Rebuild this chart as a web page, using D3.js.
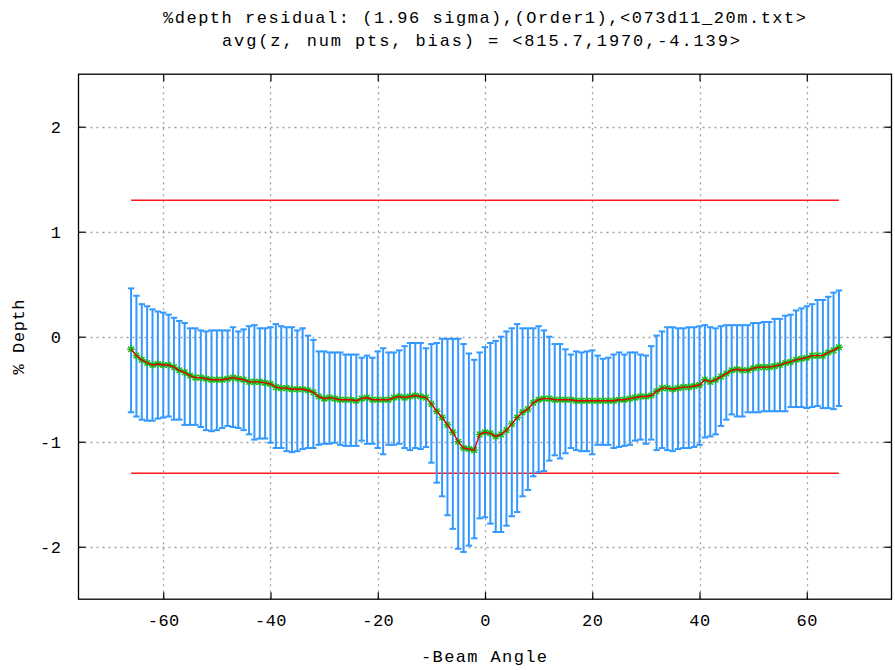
<!DOCTYPE html>
<html>
<head>
<meta charset="utf-8">
<script src="https://cdn.jsdelivr.net/npm/d3@7"></script>
<style>
  html, body { margin: 0; padding: 0; background: #fff; }
  svg text { font-family: "Liberation Mono", "DejaVu Sans Mono", monospace; fill: #000; }
</style>
</head>
<body>
<svg id="chart" width="895" height="670"></svg>
<script>
// Beam angles (degrees) at which the residual statistics were binned
const beamAngles = [
  -66,-65,-64,-63,-62,-61,-60,-59,-58,-57,-56,-55,-54,-53,-52,-51,-50,-49,-48,-47,
  -46,-45,-44,-43,-42,-41,-40,-39,-38,-37,-36,-35,-34,-33,-32,-31,-30,-29,-28,-27,
  -26,-25,-24,-23,-22,-21,-20,-19,-18,-17,-16,-15,-14,-13,-12,-11,-10,-9,-8,-7,
  -6,-5,-4,-3,-2,-1,0,1,2,3,4,5,6,7,8,9,10,11,12,13,
  14,15,16,17,18,19,20,21,22,23,24,25,26,27,28,29,30,31,32,33,
  34,35,36,37,38,39,40,41,42,43,44,45,46,47,48,49,50,51,52,53,
  54,55,56,57,58,59,60,61,62,63,64,65,66
];

// Mean % depth residual per angle
const meanResidual = [
  -0.12,-0.18,-0.22,-0.25,-0.27,-0.26,-0.27,-0.27,-0.29,-0.32,-0.34,-0.37,-0.39,-0.39,-0.40,-0.41,-0.41,-0.41,-0.40,-0.39,
  -0.40,-0.41,-0.43,-0.43,-0.43,-0.44,-0.45,-0.48,-0.49,-0.49,-0.50,-0.50,-0.50,-0.51,-0.53,-0.57,-0.59,-0.58,-0.59,-0.60,
  -0.60,-0.60,-0.61,-0.59,-0.58,-0.60,-0.60,-0.60,-0.60,-0.58,-0.57,-0.58,-0.57,-0.56,-0.57,-0.58,-0.64,-0.71,-0.77,-0.84,
  -0.91,-1.00,-1.06,-1.07,-1.08,-0.93,-0.91,-0.92,-0.95,-0.93,-0.89,-0.83,-0.77,-0.72,-0.69,-0.63,-0.60,-0.59,-0.59,-0.60,
  -0.60,-0.60,-0.60,-0.61,-0.61,-0.61,-0.61,-0.61,-0.61,-0.61,-0.61,-0.60,-0.60,-0.59,-0.58,-0.57,-0.57,-0.56,-0.52,-0.49,
  -0.49,-0.50,-0.49,-0.48,-0.48,-0.47,-0.46,-0.41,-0.43,-0.41,-0.38,-0.35,-0.32,-0.31,-0.32,-0.32,-0.30,-0.29,-0.29,-0.29,
  -0.28,-0.27,-0.25,-0.24,-0.22,-0.21,-0.20,-0.18,-0.18,-0.18,-0.15,-0.13,-0.10
];

// Upper end of the 1.96-sigma interval
const upperBound = [
  0.46,0.39,0.31,0.29,0.26,0.24,0.23,0.21,0.18,0.15,0.13,0.08,0.08,0.06,0.05,0.06,0.06,0.06,0.06,0.09,
  0.05,0.07,0.10,0.11,0.08,0.08,0.09,0.12,0.10,0.09,0.09,0.06,0.08,0.01,-0.03,-0.14,-0.14,-0.15,-0.15,-0.15,
  -0.17,-0.17,-0.17,-0.20,-0.18,-0.20,-0.14,-0.11,-0.15,-0.15,-0.13,-0.09,-0.06,-0.06,-0.06,-0.11,-0.07,-0.06,-0.02,-0.02,
  -0.02,-0.02,-0.07,-0.16,-0.22,-0.15,-0.10,-0.06,-0.04,0.00,0.05,0.08,0.12,0.08,0.08,0.08,0.10,0.06,0.00,-0.07,
  -0.07,-0.12,-0.17,-0.14,-0.15,-0.14,-0.13,-0.18,-0.21,-0.20,-0.17,-0.15,-0.17,-0.15,-0.15,-0.17,-0.18,-0.09,0.01,0.05,
  0.09,0.09,0.08,0.08,0.09,0.09,0.10,0.11,0.09,0.08,0.10,0.11,0.11,0.11,0.11,0.11,0.13,0.13,0.14,0.14,
  0.17,0.17,0.20,0.21,0.25,0.27,0.29,0.31,0.35,0.35,0.38,0.42,0.44
];

// Lower end of the 1.96-sigma interval
const lowerBound = [
  -0.72,-0.76,-0.79,-0.80,-0.80,-0.78,-0.77,-0.76,-0.79,-0.79,-0.84,-0.84,-0.84,-0.86,-0.89,-0.90,-0.89,-0.87,-0.85,-0.86,
  -0.87,-0.89,-0.93,-0.98,-0.97,-0.97,-1.01,-1.06,-1.06,-1.09,-1.10,-1.09,-1.07,-1.06,-1.06,-1.03,-1.02,-1.02,-1.01,-1.03,
  -1.04,-1.04,-1.04,-0.99,-1.02,-1.02,-1.06,-1.12,-1.03,-1.03,-1.02,-1.06,-1.08,-1.06,-1.07,-1.05,-1.20,-1.39,-1.52,-1.70,
  -1.83,-2.02,-2.05,-1.99,-1.92,-1.73,-1.72,-1.78,-1.86,-1.86,-1.80,-1.71,-1.67,-1.52,-1.46,-1.33,-1.29,-1.28,-1.18,-1.13,
  -1.16,-1.11,-1.06,-1.08,-1.09,-1.09,-1.12,-1.03,-1.03,-1.03,-1.06,-1.05,-1.04,-1.03,-0.99,-0.98,-1.02,-0.98,-1.08,-1.06,
  -1.08,-1.09,-1.07,-1.06,-1.06,-1.05,-1.03,-0.96,-0.95,-0.93,-0.85,-0.79,-0.74,-0.76,-0.76,-0.72,-0.72,-0.72,-0.71,-0.71,
  -0.71,-0.71,-0.71,-0.67,-0.67,-0.67,-0.68,-0.67,-0.66,-0.68,-0.68,-0.69,-0.66
];

// Tolerance limits (± % depth) drawn over the surveyed swath
const limitLevels = [1.3, -1.3];
const limitSpan = [-66, 66];

const xTicks = [-60, -40, -20, 0, 20, 40, 60];
const yTicks = [-2, -1, 0, 1, 2];
const xDomain = [-75.8, 75.8];
const yDomain = [-2.5, 2.5];

const titleLines = [
  "%depth residual: (1.96 sigma),(Order1),<073d11_20m.txt>",
  "avg(z, num pts, bias) = <815.7,1970,-4.139>"
];
const xLabel = "-Beam Angle";
const yLabel = "% Depth";

const records = beamAngles.map((a, i) => ({
  angle: a, mean: meanResidual[i], hi: upperBound[i], lo: lowerBound[i]
}));

const svg = d3.select("#chart");
const plot = { left: 78.5, right: 891.5, top: 74.2, bottom: 599.2 };

const x = d3.scaleLinear().domain(xDomain).range([plot.left, plot.right]);
const y = d3.scaleLinear().domain(yDomain).range([plot.bottom, plot.top]);

// Dotted grid
const grid = svg.append("g").attr("stroke", "#a0a0a0").attr("stroke-width", 1.3)
  .attr("stroke-dasharray", "2,4");
grid.selectAll("line.gx").data(xTicks).join("line")
  .attr("x1", d => Math.round(x(d)) + 0.5).attr("x2", d => Math.round(x(d)) + 0.5)
  .attr("y1", plot.top).attr("y2", plot.bottom);
grid.selectAll("line.gy").data(yTicks).join("line")
  .attr("y1", d => Math.round(y(d)) + 0.5).attr("y2", d => Math.round(y(d)) + 0.5)
  .attr("x1", plot.left).attr("x2", plot.right);

// Tolerance lines
svg.append("g").selectAll("line").data(limitLevels).join("line")
  .attr("x1", x(limitSpan[0])).attr("x2", x(limitSpan[1]))
  .attr("y1", d => y(d)).attr("y2", d => y(d))
  .attr("stroke", "#ff1a1a").attr("stroke-width", 1.6);

// Error bars with caps
const bars = svg.append("g").attr("stroke", "#3399ff").attr("stroke-width", 2);
const capHalf = 3.2;
bars.selectAll("line.v").data(records).join("line")
  .attr("x1", d => x(d.angle)).attr("x2", d => x(d.angle))
  .attr("y1", d => y(d.hi)).attr("y2", d => y(d.lo));
bars.selectAll("line.t").data(records).join("line")
  .attr("x1", d => x(d.angle) - capHalf).attr("x2", d => x(d.angle) + capHalf)
  .attr("y1", d => y(d.hi)).attr("y2", d => y(d.hi));
bars.selectAll("line.b").data(records).join("line")
  .attr("x1", d => x(d.angle) - capHalf).attr("x2", d => x(d.angle) + capHalf)
  .attr("y1", d => y(d.lo)).attr("y2", d => y(d.lo));

// Asterisk markers at the means
const star = "M-3.8,0H3.8M0,-3.8V3.8M-2.8,-2.8L2.8,2.8M-2.8,2.8L2.8,-2.8";
svg.append("g").selectAll("path").data(records).join("path")
  .attr("d", star)
  .attr("transform", d => `translate(${x(d.angle)},${y(d.mean)})`)
  .attr("fill", "none").attr("stroke", "#18b818").attr("stroke-width", 1.4);

// Mean line
svg.append("path").datum(records)
  .attr("d", d3.line().x(d => x(d.angle)).y(d => y(d.mean)))
  .attr("fill", "none").attr("stroke", "#e00000").attr("stroke-width", 1.4);

// Axes with inward ticks, mirrored on all four sides
const tickLen = 7;
const fmt = d => d3.format("d")(d).replace("−", "-");
const axB = svg.append("g").attr("transform", `translate(0,${plot.bottom})`)
  .call(d3.axisBottom(x).tickValues(xTicks).tickSizeInner(-tickLen).tickSizeOuter(0).tickPadding(15).tickFormat(fmt));
const axT = svg.append("g").attr("transform", `translate(0,${plot.top})`)
  .call(d3.axisTop(x).tickValues(xTicks).tickSizeInner(-tickLen).tickSizeOuter(0).tickFormat(""));
const axL = svg.append("g").attr("transform", `translate(${plot.left},0)`)
  .call(d3.axisLeft(y).tickValues(yTicks).tickSizeInner(-tickLen).tickSizeOuter(0).tickPadding(17).tickFormat(fmt));
const axR = svg.append("g").attr("transform", `translate(${plot.right},0)`)
  .call(d3.axisRight(y).tickValues(yTicks).tickSizeInner(-tickLen).tickSizeOuter(0).tickFormat(""));
[axB, axT, axL, axR].forEach(g => {
  g.select(".domain").remove();
  g.selectAll(".tick line").attr("stroke", "#000").attr("stroke-width", 1.2);
  g.selectAll("text").attr("font-size", 17).attr("fill", "#000")
    .attr("font-family", "Liberation Mono").attr("letter-spacing", 0.5);
});

// Plot border
svg.append("rect")
  .attr("x", plot.left).attr("y", plot.top)
  .attr("width", plot.right - plot.left).attr("height", plot.bottom - plot.top)
  .attr("fill", "none").attr("stroke", "#000").attr("stroke-width", 1.3);

// Titles
svg.append("text").attr("x", 484.5).attr("y", 23).attr("text-anchor", "middle")
  .attr("font-size", 17).attr("textLength", 643).attr("lengthAdjust", "spacing")
  .text(titleLines[0]);
svg.append("text").attr("x", 481).attr("y", 46).attr("text-anchor", "middle")
  .attr("font-size", 17).attr("textLength", 518).attr("lengthAdjust", "spacing")
  .text(titleLines[1]);

// Axis labels
svg.append("text").attr("x", 484).attr("y", 662).attr("text-anchor", "middle")
  .attr("font-size", 17).attr("textLength", 126).attr("lengthAdjust", "spacing")
  .text(xLabel);
svg.append("text").attr("transform", "translate(24,337) rotate(-90)")
  .attr("text-anchor", "middle")
  .attr("font-size", 17).attr("textLength", 75).attr("lengthAdjust", "spacing")
  .text(yLabel);
</script>
</body>
</html>
